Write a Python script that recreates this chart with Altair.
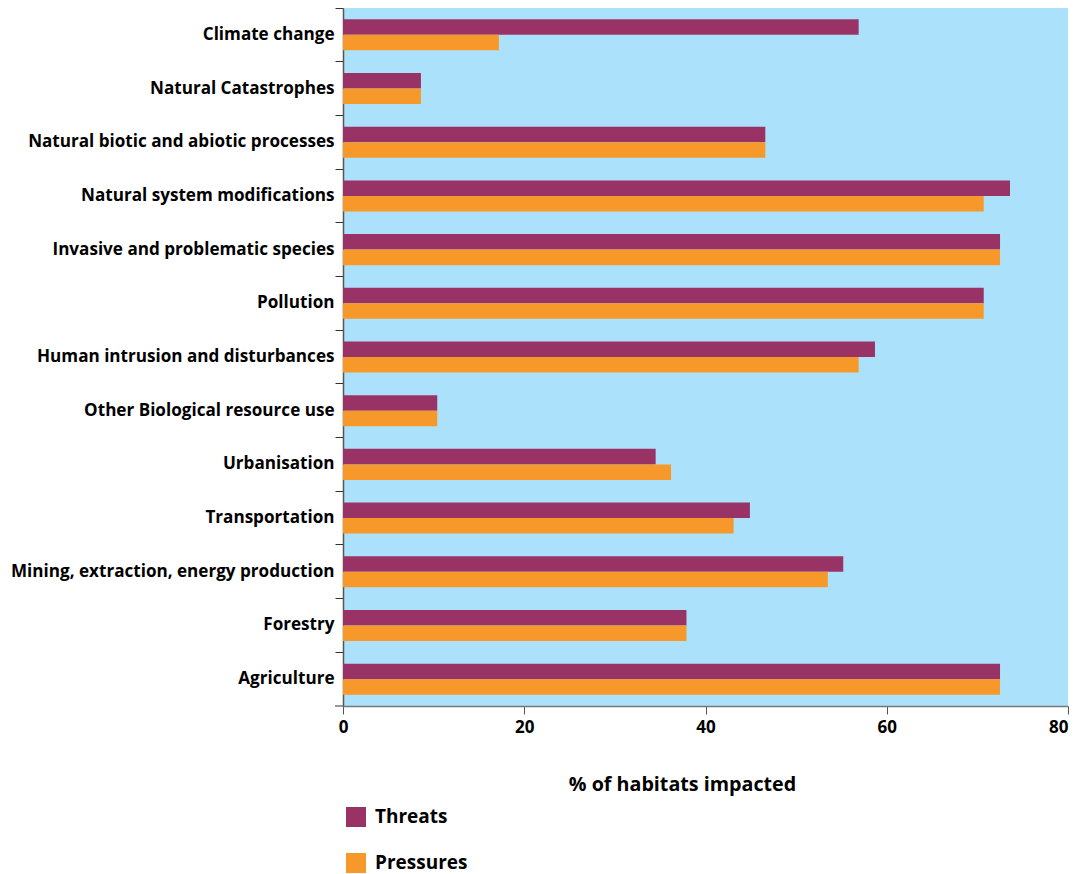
import altair as alt
import pandas as pd

categories = [
    "Climate change",
    "Natural Catastrophes",
    "Natural biotic and abiotic processes",
    "Natural system modifications",
    "Invasive and problematic species",
    "Pollution",
    "Human intrusion and disturbances",
    "Other Biological resource use",
    "Urbanisation",
    "Transportation",
    "Mining, extraction, energy production",
    "Forestry",
    "Agriculture",
]
threats = [56.9, 8.6, 46.6, 73.6, 72.5, 70.7, 58.7, 10.4, 34.5, 44.9, 55.2, 37.9, 72.5]
pressures = [17.2, 8.6, 46.6, 70.7, 72.5, 70.7, 56.9, 10.4, 36.2, 43.1, 53.5, 37.9, 72.5]
series = ["Threats", "Pressures"]
colors = ["#993366", "#F7992A"]

rows = []
for c, t, p in zip(categories, threats, pressures):
    rows.append({"category": c, "series": "Threats", "value": t})
    rows.append({"category": c, "series": "Pressures", "value": p})
df = pd.DataFrame(rows)

FONT = "Open Sans"

bars = alt.Chart(df).mark_bar().encode(
    y=alt.Y(
        "category:N",
        sort=categories,
        scale=alt.Scale(paddingInner=0, paddingOuter=0),
        axis=alt.Axis(
            title=None,
            bandPosition=0,
            tickSize=8,
            tickColor="#333333",
            domainColor="#555555",
            domainWidth=1.5,
            labelPadding=1,
            labelFont=FONT,
            labelFontSize=17.1,
            labelFontWeight="bold",
            labelColor="#000000",
            labelLimit=400,
        ),
    ),
    yOffset=alt.YOffset(
        "series:N",
        sort=series,
        scale=alt.Scale(paddingInner=0, paddingOuter=0.73),
    ),
    x=alt.X(
        "value:Q",
        scale=alt.Scale(domain=[0, 80]),
        axis=alt.Axis(
            title="% of habitats impacted",
            values=[0, 20, 40, 60, 80],
            grid=False,
            tickSize=8,
            tickColor="#555555",
            domainColor="#777777",
            domainWidth=1.5,
            labelFlush=False,
            labelAlign=alt.expr("datum.value >= 80 ? 'right' : 'center'"),
            labelFont=FONT,
            labelFontSize=17,
            labelFontWeight="bold",
            labelColor="#000000",
            labelPadding=5,
            titleFont=FONT,
            titleFontSize=19.7,
            titleFontWeight="bold",
            titleColor="#000000",
            titlePadding=39,
            titleX=339,
        ),
    ),
    color=alt.Color(
        "series:N",
        sort=series,
        scale=alt.Scale(domain=series, range=colors),
        legend=alt.Legend(
            title=None,
            orient="none",
            legendX=3,
            legendY=799,
            symbolType="square",
            symbolSize=400,
            symbolStrokeWidth=0,
            labelFont=FONT,
            labelFontSize=19,
            labelFontWeight="bold",
            labelColor="#000000",
            rowPadding=26,
            labelOffset=9,
        ),
    ),
)

bottom_tick = alt.Chart(pd.DataFrame({"a": [0]})).mark_rule(color="#333333", strokeWidth=1).encode(
    x=alt.value(-8), x2=alt.value(0), y=alt.value(698)
)

chart = alt.layer(bars, bottom_tick).properties(
    width=725,
    height=698,
    autosize=alt.AutoSizeParams(type="none"),
    padding={"left": 335, "top": 0, "right": 1, "bottom": 176},
).configure_view(fill="#ACE1FC", stroke=None)

chart.save("out.html", embed_options={"renderer": "svg", "actions": False})
